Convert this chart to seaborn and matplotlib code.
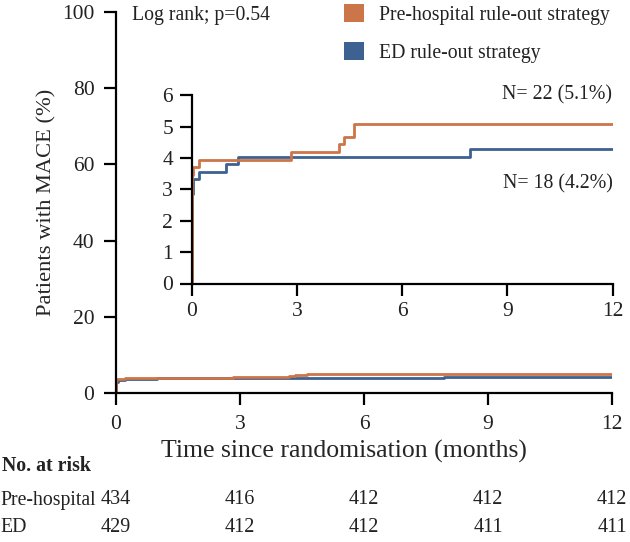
import numpy as np
import pandas as pd
import matplotlib
matplotlib.use("Agg")
import matplotlib.pyplot as plt
from matplotlib.patches import Patch
import seaborn as sns

# ---- data ----
time_pre = [0, 0, 0.03, 0.22, 2.84, 4.19, 4.33, 4.62, 12]
mace_pre = [0, 3.46, 3.70, 3.94, 4.18, 4.44, 4.66, 5.10, 5.10]
time_ed = [0, 0, 0.05, 0.22, 0.98, 1.33, 7.93, 12]
mace_ed = [0, 2.85, 3.33, 3.56, 3.81, 4.04, 4.28, 4.28]

groups = ["Pre-hospital rule-out strategy", "ED rule-out strategy"]
risk_labels = ["Pre-hospital", "ED"]
risk_times = [0, 3, 6, 9, 12]
risk_pre = [434, 416, 412, 412, 412]
risk_ed = [429, 412, 412, 411, 411]
main_yticks = [0, 20, 40, 60, 80, 100]
inset_yticks = [0, 1, 2, 3, 4, 5, 6]
xticks = [0, 3, 6, 9, 12]
n_labels = ["N= 22 (5.1%)", "N= 18 (4.2%)"]

c_pre = "#CC7548"
c_ed = "#3D6190"

sns.set_style("ticks")
plt.rcParams["font.family"] = ["Liberation Serif", "DejaVu Serif"]
plt.rcParams["axes.linewidth"] = 1.6
plt.rcParams["xtick.major.width"] = 1.6
plt.rcParams["ytick.major.width"] = 1.6
plt.rcParams["xtick.major.size"] = 8.5
plt.rcParams["ytick.major.size"] = 8.5
plt.rcParams["axes.edgecolor"] = "black"
plt.rcParams["text.color"] = "#222222"
plt.rcParams["xtick.color"] = "black"
plt.rcParams["ytick.color"] = "black"
plt.rcParams["xtick.labelcolor"] = "#222222"
plt.rcParams["ytick.labelcolor"] = "#222222"

df = pd.concat([
    pd.DataFrame({"time": time_pre, "mace": mace_pre, "group": groups[0]}),
    pd.DataFrame({"time": time_ed, "mace": mace_ed, "group": groups[1]}),
], ignore_index=True)

fig = plt.figure(figsize=(6.3, 5.42), dpi=100)
ax = fig.add_axes([116/630, 1-393/542, (612-116)/630, (393-12)/542])
axi = fig.add_axes([191.7/630, 1-283.5/542, (612.5-191.7)/630, (283.5-95.3)/542])

fs = 15.5
for a in (ax, axi):
    # ED first so that pre-hospital is on top
    for g, col in [(groups[1], c_ed), (groups[0], c_pre)]:
        sub = df[df["group"] == g]
        sns.lineplot(data=sub, x="time", y="mace", ax=a, color=col, lw=2.0,
                     drawstyle="steps-post", sort=False, estimator=None,
                     legend=False)
    a.set_xlim(0, 12)
    a.set_xticks(xticks)
    a.spines["top"].set_visible(False)
    a.spines["right"].set_visible(False)
    a.set_xlabel("")
    a.set_ylabel("")
    a.margins(0)

ax.tick_params(labelsize=fs)
ax.tick_params(axis="x", pad=7)
ax.tick_params(axis="y", pad=7)
axi.tick_params(labelsize=fs, pad=5)

ax.set_ylim(0, 100)
ax.set_yticks(main_yticks)
axi.set_ylim(0, 6)
axi.set_yticks(inset_yticks)
axi.patch.set_alpha(0)

ax.set_xlabel("Time since randomisation (months)", fontsize=18.5)
ax.xaxis.set_label_coords((344-116)/496, (393-440)/381)
ax.set_ylabel("Patients with MACE (%)", fontsize=16.2, labelpad=4)

ax.text(0.033, 0.99, "Log rank; p=0.54", transform=ax.transAxes,
        fontsize=14.2, va="center", ha="left")

handles = [Patch(facecolor=c_pre, edgecolor="none"), Patch(facecolor=c_ed, edgecolor="none")]
fig.legend(handles, groups, loc="upper left", bbox_to_anchor=(344/630, 1 - 4/542),
           frameon=False, fontsize=14.2, handlelength=1.0, handleheight=1.0,
           labelspacing=0.9, handletextpad=0.75, borderaxespad=0, borderpad=0)

axi.text(1.0, 1.0, n_labels[0], transform=axi.transAxes, ha="right", va="center",
         fontsize=14.3)
axi.text(1.0, (283.5-184)/(283.5-95.3), n_labels[1], transform=axi.transAxes,
         ha="right", va="center", fontsize=14.3)

# risk table
fig.text(2/630, 1-466/542, "No. at risk", fontsize=14.3, fontweight="bold",
         va="center", ha="left")
for row, (lab, vals) in enumerate([(risk_labels[0], risk_pre), (risk_labels[1], risk_ed)]):
    yfig = 1 - (500 + 27*row)/542
    fig.text(0/630, yfig, lab, fontsize=14.2, va="center", ha="left")
    for t, v in zip(risk_times, vals):
        xd = ax.transData.transform((t, 0))[0]
        xf = fig.transFigure.inverted().transform((xd, 0))[0]
        fig.text(xf, yfig, str(v), fontsize=14.5, va="center", ha="center")

fig.savefig("out.png", dpi=100)
